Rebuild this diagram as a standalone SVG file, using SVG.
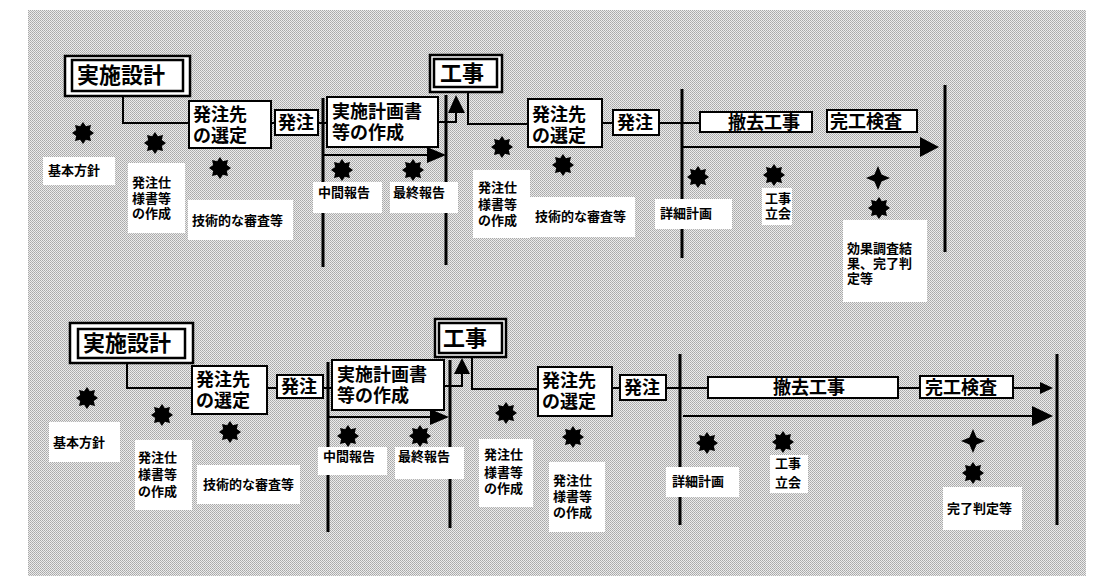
<svg xmlns="http://www.w3.org/2000/svg" xmlns:xlink="http://www.w3.org/1999/xlink" width="1097" height="576" viewBox="0 0 1097 576">
<defs>
  <pattern id="dots" x="0" y="0" width="2" height="2" patternUnits="userSpaceOnUse">
    <rect width="2" height="2" fill="#ebebeb"/>
    <rect x="0" y="0" width="1" height="1" fill="#a8a8a8"/>
    <rect x="1" y="1" width="1" height="1" fill="#b4b4b4"/>
  </pattern>
  <polygon id="star8" points="0,-11 2.9,-6.8 8,-8 6.8,-2.9 11,0 6.8,2.9 8,8 2.9,6.8 0,11 -2.9,6.8 -8,8 -6.8,2.9 -11,0 -6.8,-2.9 -8,-8 -2.9,-6.8" fill="#000"/>
  <polygon id="star4" points="0,-12 3.6,-3.6 12,0 3.6,3.6 0,12 -3.6,3.6 -12,0 -3.6,-3.6" fill="#000"/>
  <style>
    .box { fill: #fff; stroke: #000; stroke-width: 2; }
    .dbl { fill: #fff; stroke: #000; stroke-width: 2.5; }
    .lbl { fill: #fff; stroke: none; }
    .t  { font-family: "Liberation Sans", "Noto Sans CJK JP", sans-serif; font-weight: 700; fill: #000; }
    .big { font-size: 22px; }
    .mid { font-size: 18px; }
    .sm  { font-size: 13px; }
    .ln  { fill: none; stroke: #000; stroke-width: 2; }
    .ph  { fill: none; stroke: #000; stroke-width: 3; }
    .ah  { fill: #000; stroke: none; }
  </style>
</defs>

<rect x="28" y="10" width="1058" height="566" fill="url(#dots)"/>

<!-- ================= connectors ================= -->
<g id="connectors">
  <!-- top row -->
  <path class="ln" d="M123,96 V123 H189"/>
  <path class="ln" d="M271,123 H275"/>
  <path class="ln" d="M318,123 H327"/>
  <line class="ph" x1="323" y1="98" x2="323" y2="267"/>
  <line class="ph" x1="446" y1="95" x2="446" y2="265"/>
  <line class="ln" x1="323" y1="155" x2="430" y2="155" stroke-width="3"/>
  <polygon class="ah" points="427,147 446,155 427,163"/>
  <path class="ln" d="M438,122 H456 V112"/>
  <polygon class="ah" points="448,113 456,95 465,113"/>
  <path class="ln" d="M468,92 V124 H528"/>
  <path class="ln" d="M602,123 H613"/>
  <line class="ph" x1="682" y1="89" x2="682" y2="258"/>
  <path class="ln" d="M659,123 H700"/>
  <line class="ln" x1="682" y1="147" x2="924" y2="147" stroke-width="3"/>
  <polygon class="ah" points="920,137 939,147 920,157"/>
  <line class="ph" x1="945" y1="85" x2="945" y2="252"/>

  <!-- bottom row -->
  <path class="ln" d="M127,363 V388 H192"/>
  <path class="ln" d="M267,388 H277"/>
  <path class="ln" d="M323,388 H332"/>
  <line class="ph" x1="328" y1="362" x2="328" y2="532"/>
  <line class="ph" x1="450" y1="360" x2="450" y2="528"/>
  <line class="ln" x1="328" y1="417" x2="434" y2="417" stroke-width="3"/>
  <polygon class="ah" points="430,409 449,417 430,425"/>
  <path class="ln" d="M444,386 H462 V372"/>
  <polygon class="ah" points="454,374 462,358 470,374"/>
  <path class="ln" d="M472,357 V389 H538"/>
  <path class="ln" d="M612,388 H620"/>
  <line class="ph" x1="680" y1="354" x2="680" y2="525"/>
  <path class="ln" d="M666,388 H708"/>
  <path class="ln" d="M898,388 H920"/>
  <path class="ln" d="M1013,388 H1044"/>
  <polygon class="ah" points="1040,382 1053,388 1040,394"/>
  <line class="ln" x1="683" y1="416" x2="1036" y2="416" stroke-width="3"/>
  <polygon class="ah" points="1032,406 1053,416 1032,426"/>
  <line class="ph" x1="1057" y1="354" x2="1057" y2="525"/>
</g>

<!-- ================= top row nodes ================= -->
<g id="jisshi-sekkei-1">
  <rect class="dbl" x="65" y="56" width="125" height="40"/>
  <rect class="dbl" x="72" y="60" width="111" height="31"/>
  <text class="t big" x="77" y="83">実施設計</text>
</g>
<g id="hatchusaki-1">
  <rect class="box" x="189" y="101" width="82" height="47"/>
  <text class="t mid" x="193" y="121">発注先<tspan x="193" dy="21">の選定</tspan></text>
</g>
<g id="hatchu-1">
  <rect class="box" x="275" y="110" width="43" height="25"/>
  <text class="t mid" x="278" y="129">発注</text>
</g>
<g id="keikakusho-1">
  <rect class="box" x="327" y="97" width="111" height="50"/>
  <text class="t mid" x="332" y="118">実施計画書<tspan x="332" dy="21">等の作成</tspan></text>
</g>
<g id="kouji-1">
  <rect class="dbl" x="430" y="55" width="72" height="37"/>
  <rect class="dbl" x="434" y="59" width="63" height="28"/>
  <text class="t big" x="440" y="81">工事</text>
</g>
<g id="hatchusaki-2">
  <rect class="box" x="528" y="99" width="74" height="48"/>
  <text class="t mid" x="532" y="121">発注先<tspan x="532" dy="21">の選定</tspan></text>
</g>
<g id="hatchu-2">
  <rect class="box" x="613" y="110" width="46" height="25"/>
  <text class="t mid" x="617" y="129">発注</text>
</g>
<g id="tekkyo-1">
  <rect class="box" x="700" y="112" width="112" height="20"/>
  <text class="t mid" x="728" y="128.5">撤去工事</text>
</g>
<g id="kanko-1">
  <rect class="box" x="827" y="110" width="90" height="22"/>
  <text class="t mid" x="830" y="127.5">完工検査</text>
</g>

<!-- top labels -->
<g id="lbl-kihon-1"><rect class="lbl" x="43" y="157" width="72" height="28"/><text class="t sm" x="48" y="175">基本方針</text></g>
<g id="lbl-shiyo-1"><rect class="lbl" x="128" y="163" width="57" height="70"/><text class="t sm" x="132" y="187">発注仕<tspan x="132" dy="16">様書等</tspan><tspan x="132" dy="15">の作成</tspan></text></g>
<g id="lbl-shinsa-1"><rect class="lbl" x="188" y="200" width="105" height="40"/><text class="t sm" x="192" y="225">技術的な審査等</text></g>
<g id="lbl-chukan-1"><rect class="lbl" x="313" y="182" width="69" height="31"/><text class="t sm" x="318" y="197">中間報告</text></g>
<g id="lbl-saishu-1"><rect class="lbl" x="390" y="182" width="68" height="31"/><text class="t sm" x="393" y="197">最終報告</text></g>
<g id="lbl-shiyo-2"><rect class="lbl" x="473" y="170" width="57" height="68"/><text class="t sm" x="478" y="192">発注仕<tspan x="478" dy="17">様書等</tspan><tspan x="478" dy="16">の作成</tspan></text></g>
<g id="lbl-shinsa-2"><rect class="lbl" x="530" y="197" width="105" height="40"/><text class="t sm" x="535" y="221">技術的な審査等</text></g>
<g id="lbl-shosai-1"><rect class="lbl" x="655" y="199" width="77" height="30"/><text class="t sm" x="660" y="218">詳細計画</text></g>
<g id="lbl-tachiai-1"><rect class="lbl" x="762" y="188" width="30" height="37"/><text class="t sm" x="765" y="203">工事<tspan x="765" dy="15">立会</tspan></text></g>
<g id="lbl-koka-1"><rect class="lbl" x="843" y="220" width="84" height="82"/><text class="t sm" x="847" y="253">効果調査結<tspan x="847" dy="15">果、完了判</tspan><tspan x="847" dy="15">定等</tspan></text></g>

<!-- top stars -->
<g id="stars-top">
  <use xlink:href="#star8" x="83" y="133"/>
  <use xlink:href="#star8" x="155" y="143"/>
  <use xlink:href="#star8" x="220" y="168"/>
  <use xlink:href="#star8" x="342" y="170"/>
  <use xlink:href="#star8" x="413" y="170"/>
  <use xlink:href="#star8" x="502" y="147"/>
  <use xlink:href="#star8" x="563" y="165"/>
  <use xlink:href="#star8" x="698" y="177"/>
  <use xlink:href="#star8" x="774" y="175"/>
  <use xlink:href="#star4" x="878" y="178"/>
  <use xlink:href="#star8" x="879" y="208"/>
</g>

<!-- ================= bottom row nodes ================= -->
<g id="jisshi-sekkei-2">
  <rect class="dbl" x="70" y="323" width="123" height="40"/>
  <rect class="dbl" x="78" y="329" width="107" height="29"/>
  <text class="t big" x="83" y="351">実施設計</text>
</g>
<g id="hatchusaki-3">
  <rect class="box" x="192" y="366" width="75" height="48"/>
  <text class="t mid" x="196" y="386">発注先<tspan x="196" dy="21">の選定</tspan></text>
</g>
<g id="hatchu-3">
  <rect class="box" x="277" y="375" width="46" height="23"/>
  <text class="t mid" x="281" y="393">発注</text>
</g>
<g id="keikakusho-2">
  <rect class="box" x="332" y="360" width="112" height="50"/>
  <text class="t mid" x="337" y="381">実施計画書<tspan x="337" dy="21">等の作成</tspan></text>
</g>
<g id="kouji-2">
  <rect class="dbl" x="435" y="319" width="71" height="38"/>
  <rect class="dbl" x="439" y="323" width="63" height="30"/>
  <text class="t big" x="443" y="346">工事</text>
</g>
<g id="hatchusaki-4">
  <rect class="box" x="538" y="367" width="74" height="49"/>
  <text class="t mid" x="542" y="387">発注先<tspan x="542" dy="21">の選定</tspan></text>
</g>
<g id="hatchu-4">
  <rect class="box" x="620" y="375" width="46" height="25"/>
  <text class="t mid" x="624" y="393.5">発注</text>
</g>
<g id="tekkyo-2">
  <rect class="box" x="708" y="377" width="190" height="21"/>
  <text class="t mid" x="773" y="394">撤去工事</text>
</g>
<g id="kanko-2">
  <rect class="box" x="920" y="376" width="93" height="22"/>
  <text class="t mid" x="925" y="393.5">完工検査</text>
</g>

<!-- bottom labels -->
<g id="lbl-kihon-2"><rect class="lbl" x="49" y="422" width="71" height="40"/><text class="t sm" x="53" y="447">基本方針</text></g>
<g id="lbl-shiyo-3"><rect class="lbl" x="135" y="440" width="57" height="70"/><text class="t sm" x="138" y="462">発注仕<tspan x="138" dy="17">様書等</tspan><tspan x="138" dy="17">の作成</tspan></text></g>
<g id="lbl-shinsa-3"><rect class="lbl" x="197" y="465" width="103" height="39"/><text class="t sm" x="203" y="489">技術的な審査等</text></g>
<g id="lbl-chukan-2"><rect class="lbl" x="318" y="447" width="69" height="28"/><text class="t sm" x="323" y="461">中間報告</text></g>
<g id="lbl-saishu-2"><rect class="lbl" x="395" y="447" width="69" height="32"/><text class="t sm" x="398" y="461">最終報告</text></g>
<g id="lbl-shiyo-4"><rect class="lbl" x="479" y="439" width="54" height="68"/><text class="t sm" x="484" y="459">発注仕<tspan x="484" dy="18">様書等</tspan><tspan x="484" dy="16">の作成</tspan></text></g>
<g id="lbl-shiyo-5"><rect class="lbl" x="549" y="462" width="56" height="70"/><text class="t sm" x="553" y="485">発注仕<tspan x="553" dy="16">様書等</tspan><tspan x="553" dy="16">の作成</tspan></text></g>
<g id="lbl-shosai-2"><rect class="lbl" x="666" y="467" width="73" height="30"/><text class="t sm" x="672" y="486">詳細計画</text></g>
<g id="lbl-tachiai-2"><rect class="lbl" x="770" y="455" width="38" height="38"/><text class="t sm" x="775" y="468">工事<tspan x="775" dy="19">立会</tspan></text></g>
<g id="lbl-kanryo-2"><rect class="lbl" x="943" y="487" width="79" height="43"/><text class="t sm" x="947" y="513">完了判定等</text></g>

<!-- bottom stars -->
<g id="stars-bottom">
  <use xlink:href="#star8" x="87" y="398"/>
  <use xlink:href="#star8" x="162" y="415"/>
  <use xlink:href="#star8" x="230" y="432"/>
  <use xlink:href="#star8" x="348" y="436"/>
  <use xlink:href="#star8" x="420" y="436"/>
  <use xlink:href="#star8" x="506" y="413"/>
  <use xlink:href="#star8" x="573" y="437"/>
  <use xlink:href="#star8" x="707" y="443"/>
  <use xlink:href="#star8" x="783" y="442"/>
  <use xlink:href="#star4" x="973" y="441"/>
  <use xlink:href="#star8" x="973" y="473"/>
</g>
</svg>
